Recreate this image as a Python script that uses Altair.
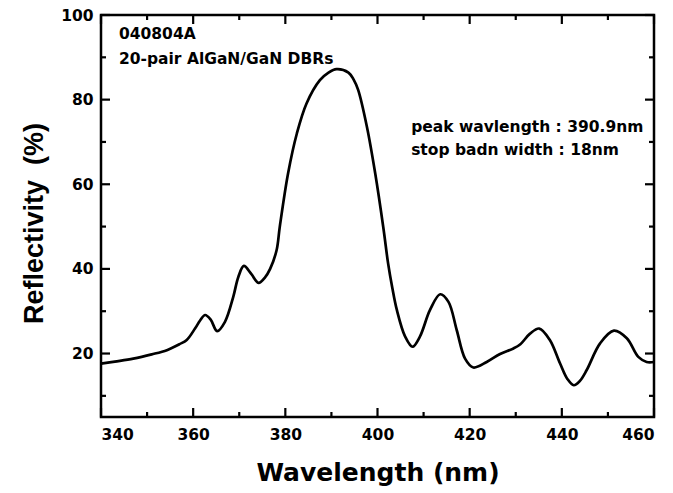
import altair as alt
import pandas as pd

# ---- data ----
wavelength = [340.0, 343.0, 347.0, 351.0, 354.3, 357.0, 358.6, 360.4, 361.5, 362.6,
              363.8, 365.2, 366.9, 368.7, 369.8, 371.0, 372.6, 374.2, 375.6, 376.7,
              378.1, 378.8, 380.6, 382.5, 384.6, 387.5, 389.3, 391.1, 393.7, 394.8,
              395.8, 397.7, 399.5, 401.3, 402.3, 403.2, 404.2, 406.0, 407.6, 409.2,
              411.4, 413.6, 415.4, 417.2, 419.0, 420.8, 423.7, 426.6, 429.5, 431.0,
              433.1, 435.1, 437.4, 439.6, 441.2, 442.6, 443.9, 445.4, 448.3, 451.3,
              454.1, 456.6, 458.4, 460.0]
reflectivity = [17.6, 18.1, 18.8, 19.8, 20.8, 22.2, 23.2, 25.9, 27.8, 29.1,
                28.0, 25.3, 27.5, 33.4, 38.1, 40.7, 38.8, 36.7, 38.0, 40.0,
                44.4, 50.0, 62.6, 72.0, 79.1, 84.6, 86.3, 87.2, 86.4, 84.8,
                82.3, 73.6, 62.6, 49.5, 41.3, 35.6, 30.3, 24.0, 21.6, 24.0,
                30.3, 34.0, 32.2, 25.5, 18.8, 16.7, 18.0, 19.9, 21.2, 22.2,
                24.7, 25.9, 23.2, 17.7, 14.0, 12.5, 13.5, 16.1, 22.4, 25.4,
                23.6, 19.2, 18.0, 18.0]

x_label_values = [340, 360, 380, 400, 420, 440, 460]
y_label_values = [20, 40, 60, 80, 100]
x_minor_values = [350, 370, 390, 410, 430, 450]
y_minor_values = [10, 30, 50, 70, 90]

note1_lines = ["040804A", "20-pair AlGaN/GaN DBRs"]
note2_lines = ["peak wavlength : 390.9nm", "stop badn width : 18nm"]

df = pd.DataFrame({"wl": wavelength, "r": reflectivity})

W, H = 553, 402
MAJOR, MINOR = 9, 5
FONT = "DejaVu Sans"
xs = alt.Scale(domain=[340, 460], nice=False, zero=False)
ys = alt.Scale(domain=[5, 100], nice=False, zero=False)

label_style = dict(labelFont=FONT, labelFontSize=15.5, labelFontWeight="bold",
                   labelColor="black", grid=False, domain=False)

main = alt.Chart(df).mark_line(color="black", strokeWidth=2.7, interpolate="catmull-rom").encode(
    x=alt.X("wl:Q", scale=xs, axis=alt.Axis(
        orient="bottom", values=x_label_values, ticks=False, labelPadding=10,
        title="Wavelength (nm)", titleFont=FONT, titleFontSize=25, titleFontWeight="bold",
        titleColor="black", titleBaseline="alphabetic", titleY=63, **label_style)),
    y=alt.Y("r:Q", scale=ys, axis=alt.Axis(
        orient="left", values=y_label_values, ticks=False, labelPadding=8,
        title="Reflectivity\u00a0\u00a0(%)", titleFont="Liberation Sans", titleFontSize=27,
        titleFontWeight="bold", titleColor="black", titleAngle=270,
        titleBaseline="alphabetic", titleAlign="center", titleX=-59, titleY=208,
        **label_style)),
)


def x_ticks(values, size):
    src = alt.Chart(pd.DataFrame({"v": values})).mark_rule(color="black", strokeWidth=2.2)
    enc_x = alt.X("v:Q", scale=xs, axis=None)
    bottom = src.encode(x=enc_x, y=alt.value(H), y2=alt.value(H - size))
    top = src.encode(x=enc_x, y=alt.value(0), y2=alt.value(size))
    return [bottom, top]


def y_ticks(values, size):
    src = alt.Chart(pd.DataFrame({"v": values})).mark_rule(color="black", strokeWidth=2.2)
    enc_y = alt.Y("v:Q", scale=ys, axis=None)
    left = src.encode(y=enc_y, x=alt.value(0), x2=alt.value(size))
    right = src.encode(y=enc_y, x=alt.value(W), x2=alt.value(W - size))
    return [left, right]


tick_layers = (x_ticks(x_label_values, MAJOR) + x_ticks(x_minor_values, MINOR)
               + y_ticks(y_label_values, MAJOR) + y_ticks(y_minor_values, MINOR))

note1 = alt.Chart(pd.DataFrame({"x": [343.9], "y": [94.3]})).mark_text(
    text=note1_lines, align="left", baseline="alphabetic", lineHeight=25,
    font=FONT, fontSize=15.5, fontWeight="bold", color="black",
).encode(
    x=alt.X("x:Q", scale=xs, axis=None),
    y=alt.Y("y:Q", scale=ys, axis=None),
)
note2 = alt.Chart(pd.DataFrame({"x": [407.3], "y": [72.3]})).mark_text(
    text=note2_lines, align="left", baseline="alphabetic", lineHeight=23,
    font=FONT, fontSize=15.5, fontWeight="bold", color="black",
).encode(
    x=alt.X("x:Q", scale=xs, axis=None),
    y=alt.Y("y:Q", scale=ys, axis=None),
)

chart = alt.layer(main, *tick_layers, note1, note2).resolve_axis(
    x="independent", y="independent"
).properties(
    width=W, height=H,
    autosize=alt.AutoSizeParams(type="none"),
    padding={"left": 101, "top": 15, "right": 19, "bottom": 76},
    background="white",
).configure_view(stroke="black", strokeWidth=2.5)

chart.save("out.html", embed_options={"renderer": "svg", "actions": False})
